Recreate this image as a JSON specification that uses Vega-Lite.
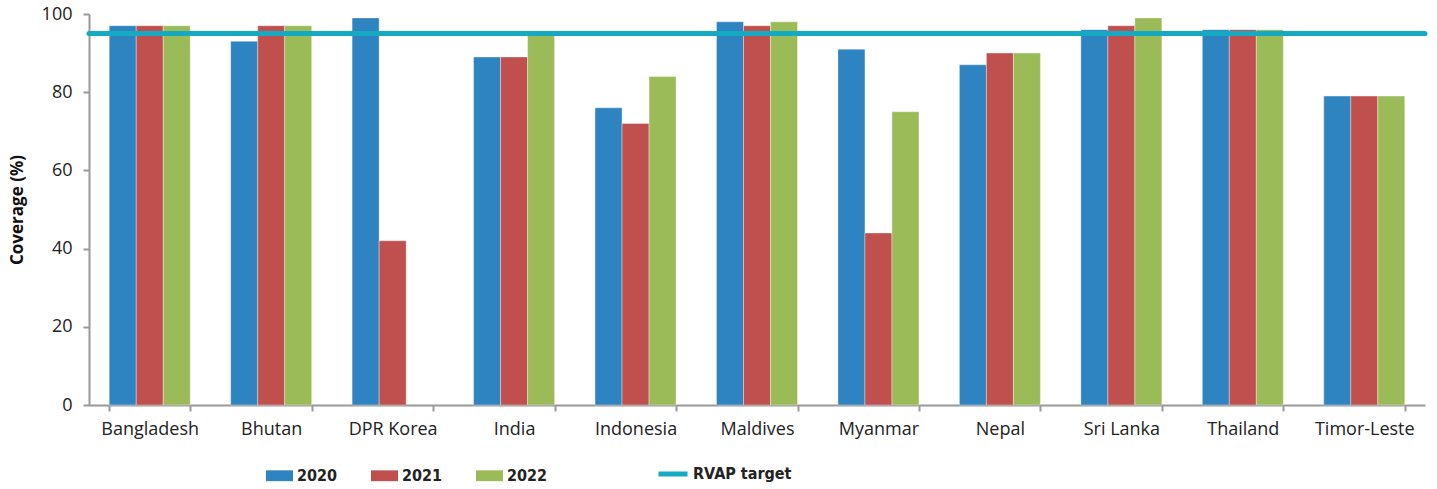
{
  "$schema": "https://vega.github.io/schema/vega-lite/v6.json",
  "width": 1336,
  "height": 391,
  "autosize": {"type": "none"},
  "padding": {"left": 89, "top": 14, "right": 12, "bottom": 84},
  "background": "white",
  "config": {"view": {"stroke": null}, "font": "Open Sans"},
  "datasets": {
    "bars": [
      {"country": "Bangladesh", "year": "2020", "coverage": 97},
      {"country": "Bangladesh", "year": "2021", "coverage": 97},
      {"country": "Bangladesh", "year": "2022", "coverage": 97},
      {"country": "Bhutan", "year": "2020", "coverage": 93},
      {"country": "Bhutan", "year": "2021", "coverage": 97},
      {"country": "Bhutan", "year": "2022", "coverage": 97},
      {"country": "DPR Korea", "year": "2020", "coverage": 99},
      {"country": "DPR Korea", "year": "2021", "coverage": 42},
      {"country": "India", "year": "2020", "coverage": 89},
      {"country": "India", "year": "2021", "coverage": 89},
      {"country": "India", "year": "2022", "coverage": 95},
      {"country": "Indonesia", "year": "2020", "coverage": 76},
      {"country": "Indonesia", "year": "2021", "coverage": 72},
      {"country": "Indonesia", "year": "2022", "coverage": 84},
      {"country": "Maldives", "year": "2020", "coverage": 98},
      {"country": "Maldives", "year": "2021", "coverage": 97},
      {"country": "Maldives", "year": "2022", "coverage": 98},
      {"country": "Myanmar", "year": "2020", "coverage": 91},
      {"country": "Myanmar", "year": "2021", "coverage": 44},
      {"country": "Myanmar", "year": "2022", "coverage": 75},
      {"country": "Nepal", "year": "2020", "coverage": 87},
      {"country": "Nepal", "year": "2021", "coverage": 90},
      {"country": "Nepal", "year": "2022", "coverage": 90},
      {"country": "Sri Lanka", "year": "2020", "coverage": 96},
      {"country": "Sri Lanka", "year": "2021", "coverage": 97},
      {"country": "Sri Lanka", "year": "2022", "coverage": 99},
      {"country": "Thailand", "year": "2020", "coverage": 96},
      {"country": "Thailand", "year": "2021", "coverage": 96},
      {"country": "Thailand", "year": "2022", "coverage": 96},
      {"country": "Timor-Leste", "year": "2020", "coverage": 79},
      {"country": "Timor-Leste", "year": "2021", "coverage": 79},
      {"country": "Timor-Leste", "year": "2022", "coverage": 79}
    ],
    "target": [{"name": "RVAP target", "value": 95}]
  },
  "layer": [
    {
      "data": {"name": "bars"},
      "mark": {"type": "bar", "stroke": "white", "strokeOpacity": 0.35, "strokeWidth": 1},
      "encoding": {
        "x": {
          "field": "country", "type": "nominal", "sort": null,
          "scale": {"paddingInner": 0.333, "paddingOuter": 0.1665},
          "axis": {
            "title": null, "labelAngle": 0, "labelFontSize": 18, "labelColor": "#222",
            "domainColor": "#999", "domainWidth": 2, "tickColor": "#999", "tickWidth": 2,
            "tickSize": 6, "tickBand": "extent", "labelPadding": 9
          }
        },
        "xOffset": {"field": "year", "type": "nominal", "scale": {"paddingInner": 0}},
        "y": {
          "field": "coverage", "type": "quantitative",
          "scale": {"domain": [0, 100], "nice": false},
          "axis": {
            "title": "Coverage (%)", "titleFontSize": 17, "titleFontWeight": "bold", "titleColor": "#111",
            "titlePadding": 15, "values": [0, 20, 40, 60, 80, 100], "grid": false,
            "labelFontSize": 18, "labelColor": "#222", "labelPadding": 11,
            "domainColor": "#999", "domainWidth": 2, "tickColor": "#999", "tickWidth": 2, "tickSize": 6
          }
        },
        "color": {
          "field": "year", "type": "nominal",
          "scale": {"domain": ["2020", "2021", "2022"], "range": ["#2E83C1", "#C0504D", "#9BBB59"]},
          "legend": {
            "title": null, "orient": "none", "direction": "horizontal", "columns": 3,
            "legendX": 177, "legendY": 448,
            "symbolType": "M-1,-0.4H1V0.4H-1Z", "symbolSize": 729, "symbolStrokeWidth": 0,
            "labelFont": "DejaVu Sans Condensed", "labelFontWeight": "bold",
            "labelFontSize": 16, "labelColor": "#222", "labelOffset": 4, "columnPadding": 33
          }
        }
      }
    },
    {
      "data": {"name": "target"},
      "mark": {"type": "rule", "strokeWidth": 5, "strokeCap": "round"},
      "encoding": {
        "y": {"field": "value", "type": "quantitative"},
        "stroke": {
          "field": "name", "type": "nominal",
          "scale": {"range": ["#15A9C2"]},
          "legend": {
            "title": null, "orient": "none", "legendX": 567, "legendY": 443,
            "symbolType": "stroke", "symbolSize": 841, "symbolStrokeWidth": 5,
            "labelFont": "DejaVu Sans Condensed", "labelFontWeight": "bold",
            "labelFontSize": 16, "labelColor": "#222", "labelOffset": 3
          }
        }
      }
    }
  ]
}
